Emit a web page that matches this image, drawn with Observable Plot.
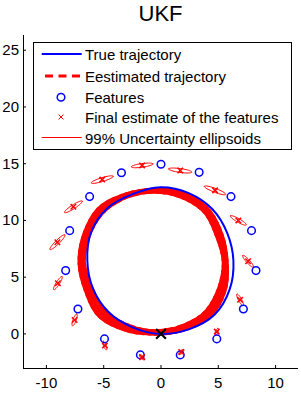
<!DOCTYPE html>
<html><head><meta charset="utf-8">
<script src="https://cdn.jsdelivr.net/npm/d3@7"></script>
<script src="https://cdn.jsdelivr.net/npm/@observablehq/plot@0.6"></script>
<style>
body{margin:0;background:#fff;}
#wrap{position:relative;width:301px;height:394px;font-family:"Liberation Sans",Arial,sans-serif;}
#wrap svg{position:absolute;left:0;top:0;}
</style></head>
<body><div id="wrap"></div>
<script>
const xTicks = [-10, -5, 0, 5, 10];
const yTicks = [0, 5, 10, 15, 20, 25];
const xDomain = [-12, 12];
const yDomain = [-3.05, 26.3];

// True trajectory
const trueX = [-0.05, 2.41, 4.69, 6.0, 6.32, 5.79, 4.49, 2.42, -0.05, -2.48, -4.68, -6.10, -6.43, -5.94, -4.58, -2.48];
const trueY = [0.0, 0.40, 1.71, 3.94, 6.45, 8.87, 10.99, 12.41, 12.93, 12.32, 11.08, 8.96, 6.45, 4.01, 1.93, 0.58];

// Estimated trajectory laps (outer, middle, inner edge of the red band)
const estAX = [-0.66, 1.84, 4.20, 5.55, 5.74, 5.27, 4.04, 1.86, -0.66, -3.12, -5.39, -6.68, -7.12, -6.59, -5.41, -3.14];
const estAY = [0.01, 0.33, 1.49, 3.78, 6.35, 8.81, 11.05, 12.44, 12.71, 12.28, 11.08, 8.85, 6.35, 3.89, 1.60, 0.37];
const estBX = [-0.66, 1.77, 4.01, 5.30, 5.60, 5.07, 3.90, 1.79, -0.66, -3.07, -5.22, -6.48, -6.92, -6.34, -5.19, -3.05];
const estBY = [0.13, 0.48, 1.68, 3.88, 6.35, 8.72, 10.91, 12.26, 12.62, 12.17, 10.91, 8.76, 6.35, 4.00, 1.83, 0.58];
const estCX = [-0.66, 1.71, 3.82, 5.05, 5.46, 4.87, 3.77, 1.72, -0.66, -3.03, -5.05, -6.28, -6.72, -6.09, -4.96, -2.97];
const estCY = [0.25, 0.64, 1.87, 3.99, 6.35, 8.64, 10.78, 12.09, 12.53, 12.06, 10.74, 8.68, 6.35, 4.10, 2.05, 0.78];

// Features
const featX = [0, 3.33, 6.11, 7.9, 8.29, 7.19, 4.87, 1.68, -1.8, -4.93, -7.25, -8.32, -7.97, -6.23, -3.45];
const featY = [14.95, 14.24, 12.1, 9.1, 5.58, 2.2, -0.44, -1.85, -1.85, -0.44, 2.2, 5.58, 9.1, 12.1, 14.2];

// Final feature estimates and their 99% ellipses (semi-axes, orientation in degrees)
const estX = [-1.65, 1.68, 4.72, 6.75, 7.6, 6.9, 4.87, 1.77, -1.65, -4.9, -7.54, -9.0, -9.04, -7.65, -5.13];
const estY = [14.85, 14.4, 12.65, 10.0, 6.4, 3.0, 0.2, -1.6, -2.06, -1.03, 1.23, 4.47, 8.08, 11.2, 13.6];
const ellA = [0.95, 1.02, 1.0, 0.8, 0.69, 0.57, 0.3, 0.3, 0.3, 0.4, 0.55, 0.68, 0.92, 0.92, 1.0];
const ellB = [0.16, 0.17, 0.17, 0.16, 0.15, 0.14, 0.12, 0.12, 0.12, 0.12, 0.14, 0.15, 0.17, 0.17, 0.17];
const ellAng = [8, 172, 159, 150, 132, 118, 70, 45, 135, 110, 70, 58, 45, 33, 17];

const startX = [0], startY = [0];

const toPts = (xs, ys) => xs.map((x, i) => ({x, y: ys[i]}));
const truePts = toPts(trueX, trueY);
const loopA = toPts(estAX, estAY), loopB = toPts(estBX, estBY), loopC = toPts(estCX, estCY);
const feats = toPts(featX, featY);
const ests = toPts(estX, estY);
const starts = toPts(startX, startY);

// ellipse outlines from center, semi-axes and orientation
const ellPts = [];
estX.forEach((cx, i) => {
  const cy = estY[i], a = ellA[i], b = ellB[i], t = ellAng[i] * Math.PI / 180;
  for (let k = 0; k <= 48; k++) {
    const u = 2 * Math.PI * k / 48;
    const ex = a * Math.cos(u), ey = b * Math.sin(u);
    ellPts.push({id: i, x: cx + ex * Math.cos(t) - ey * Math.sin(t), y: cy + ex * Math.sin(t) + ey * Math.cos(t)});
  }
});

const dash = {x: "x", y: "y", stroke: "red", strokeWidth: 3.8, strokeDasharray: "8,5", curve: "catmull-rom-closed"};
const lapMarks = [];
[loopA, loopB, loopC].forEach((lp, i) => {
  lapMarks.push(Plot.line(lp, {...dash, strokeDashoffset: i * 3}));
  lapMarks.push(Plot.line(lp, {...dash, strokeDashoffset: i * 3 + 6.5}));
});

const chart = Plot.plot({
  width: 301, height: 394,
  marginLeft: 23, marginRight: 3, marginTop: 35, marginBottom: 26,
  x: {domain: xDomain, label: null},
  y: {domain: yDomain, label: null},
  style: {fontSize: "15px", fontFamily: "Liberation Sans, Arial, sans-serif", color: "black", background: "white"},
  marks: [
    Plot.line(ellPts, {x: "x", y: "y", z: "id", stroke: "red", strokeWidth: 1}),
    ...lapMarks,
    Plot.line(truePts, {x: "x", y: "y", stroke: "blue", strokeWidth: 2, curve: "catmull-rom-closed"}),
    Plot.dot(feats, {x: "x", y: "y", r: 3.8, stroke: "blue", strokeWidth: 1.5, fill: "none"}),
    Plot.dot(ests, {x: "x", y: "y", symbol: "times", r: 2.6, stroke: "red", strokeWidth: 1.5}),
    Plot.dot(starts, {x: "x", y: "y", symbol: "times", r: 4.5, stroke: "black", strokeWidth: 2}),
    Plot.ruleX([xDomain[0]], {stroke: "black"}),
    Plot.ruleY([yDomain[0]], {stroke: "black"}),
    Plot.axisX({ticks: xTicks, tickSize: -3, tickPadding: 12, label: null, tickFormat: d => String(d)}),
    Plot.axisY({ticks: yTicks, tickSize: -3, tickPadding: 7.5, label: null, tickFormat: d => String(d)})
  ]
});
const wrap = document.getElementById("wrap");
wrap.appendChild(chart);

const legendItems = ["True trajectory", "Eestimated trajectory", "Features", "Final estimate of the features", "99% Uncertainty ellipsoids"];
const ov = d3.create("svg").attr("width", 301).attr("height", 394)
  .style("font-family", "Liberation Sans, Arial, sans-serif");
ov.append("text").attr("x", 160.5).attr("y", 20.5).attr("text-anchor", "middle")
  .attr("font-size", 22).text("UKF");
ov.append("rect").attr("x", 33.5).attr("y", 42.5).attr("width", 258).attr("height", 107)
  .attr("fill", "white").attr("stroke", "black");
const rowsY = [54, 76, 97.3, 117, 137.5];
ov.append("line").attr("x1", 41.7).attr("x2", 81.7).attr("y1", rowsY[0]).attr("y2", rowsY[0]).attr("stroke", "blue").attr("stroke-width", 2);
ov.append("line").attr("x1", 45).attr("x2", 82).attr("y1", rowsY[1]).attr("y2", rowsY[1]).attr("stroke", "red").attr("stroke-width", 3).attr("stroke-dasharray", "8,5.5");
ov.append("circle").attr("cx", 61).attr("cy", rowsY[2]).attr("r", 3.8).attr("fill", "none").attr("stroke", "blue").attr("stroke-width", 1.5);
ov.append("path").attr("d", `M58.6,${rowsY[3]-2.4}l4.8,4.8m0,-4.8l-4.8,4.8`).attr("stroke", "red").attr("stroke-width", 1);
ov.append("line").attr("x1", 41.7).attr("x2", 81.7).attr("y1", rowsY[4]).attr("y2", rowsY[4]).attr("stroke", "red").attr("stroke-width", 1);
legendItems.forEach((t, i) => {
  ov.append("text").attr("x", 85).attr("y", rowsY[i] + 6).attr("font-size", 15).text(t);
});
wrap.appendChild(ov.node());
</script>
</body></html>
